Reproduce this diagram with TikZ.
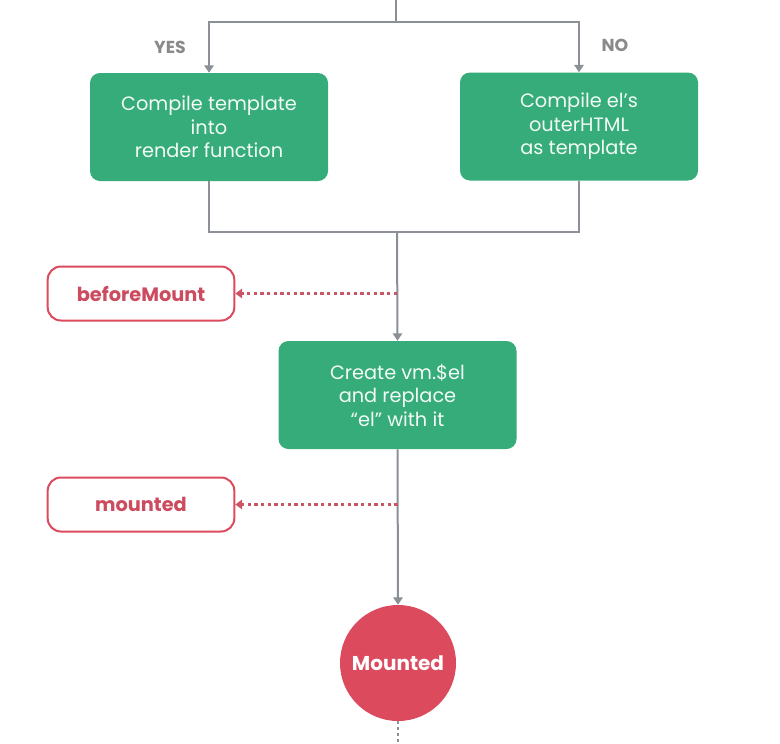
\documentclass[tikz,border=0pt]{standalone}
\usepackage{fontspec}
\setmainfont{Poppins}
\usetikzlibrary{arrows.meta}
\definecolor{vgreen}{HTML}{35AC79}
\definecolor{vred}{HTML}{DC4A5E}
\definecolor{vredtext}{HTML}{CC4B5E}
\definecolor{vgray}{HTML}{8B9096}
\definecolor{vlabel}{HTML}{8A8A8A}
\definecolor{vtext}{HTML}{F2FBF5}
\begin{document}
\begin{tikzpicture}[x=0.75pt,y=-0.75pt,
  greenbox/.style={fill=vgreen, rounded corners=7.5pt, minimum width=178.5pt, minimum height=81pt,
    text=vtext, align=center, font=\fontsize{14.5}{17.6}\selectfont, inner sep=0pt},
  hookbox/.style={draw=vred, line width=1.5pt, fill=white, rounded corners=10pt, minimum width=140pt,
    minimum height=40.5pt, text=vredtext, font=\fontsize{14.5}{16}\selectfont\bfseries, inner sep=0pt},
  circ/.style={circle, fill=vred, minimum size=87pt, inner sep=0pt, text=white,
    font=\fontsize{15}{17}\selectfont\bfseries},
  flow/.style={draw=vgray, line width=1.5pt},
  tip/.style={-{Triangle[width=7pt,length=5.5pt]}},
  hook/.style={draw=vred!80!gray, line width=1.6pt, dash pattern=on 2.5pt off 2.5pt,
    -{Triangle[width=7pt,length=5pt]}},
  ylabel/.style={text=vlabel, font=\fontsize{13}{15}\selectfont\bfseries}
]
\useasboundingbox[fill=white] (0,0) rectangle (780,743);
\node[greenbox] (tpl) at (209,127) {Compile template\\into\\render function};
\node[greenbox] (outer) at (579,126.5) {Compile el’s\\outerHTML\\as template};
\node[greenbox] (create) at (397.5,395) {Create vm.\$el\\and replace\\“el” with it};
\node[hookbox] (bm) at (141,293.5) {beforeMount};
\node[hookbox] (mt) at (141,504.5) {mounted};
\node[circ] (mnt) at (398,663) {Mounted};
\node[ylabel] (yes) at (170,47) {YES};
\node[ylabel] (no) at (615,45) {NO};
\coordinate (top) at (396,0);
\coordinate (split) at (396,22);
\coordinate (join) at (397,232);
\coordinate (bot) at (398,743);
\draw[flow] (top) -- (split);
\draw[flow,tip] (split) -| (tpl.north);
\draw[flow,tip] (split) -| (outer.north);
\draw[flow] (tpl.south) |- (join);
\draw[flow] (outer.south) |- (join);
\draw[flow,tip] (join) -- (create.north);
\draw[hook] (join |- bm.east) -- (bm.east);
\draw[flow,tip] (create.south) -- (mnt.north);
\draw[hook] (create.south |- mt.east) -- (mt.east);
\draw[draw=vgray, line width=1.5pt, dash pattern=on 2pt off 2.5pt] (mnt.south) -- (bot);
\end{tikzpicture}
\end{document}
